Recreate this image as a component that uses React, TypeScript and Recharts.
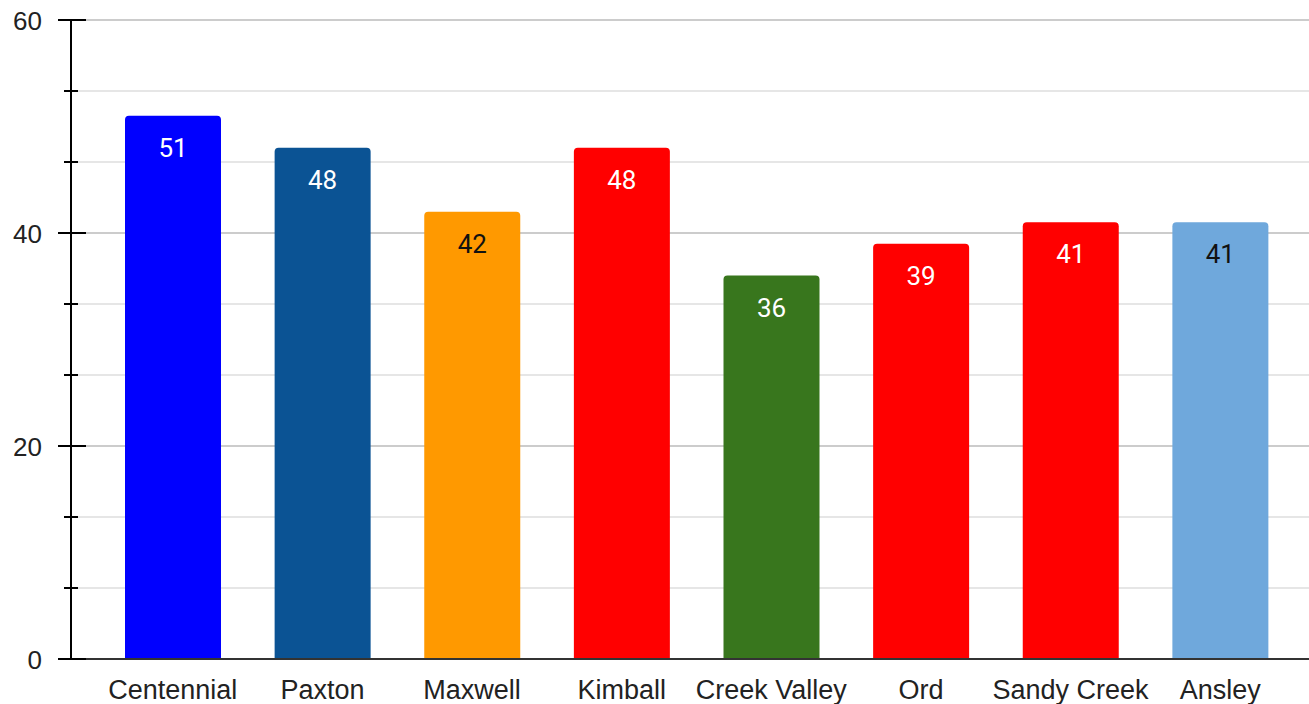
import React from 'react';
import { BarChart, Bar, XAxis, YAxis, CartesianGrid, Cell, LabelList } from 'recharts';

const categories = ['Centennial', 'Paxton', 'Maxwell', 'Kimball', 'Creek Valley', 'Ord', 'Sandy Creek', 'Ansley'];
const values = [51, 48, 42, 48, 36, 39, 41, 41];
const barColors = ['#0000ff', '#0b5394', '#ff9900', '#ff0000', '#38761d', '#ff0000', '#ff0000', '#6fa8dc'];
const labelColors = ['#ffffff', '#ffffff', '#111111', '#ffffff', '#ffffff', '#ffffff', '#ffffff', '#111111'];
const yTicks = [0, 20 / 3, 40 / 3, 20, 80 / 3, 100 / 3, 40, 140 / 3, 160 / 3, 60];
const majorTicks = [0, 20, 40, 60];
const minorTicks = yTicks.filter((_, i) => i % 3 !== 0);

const data = categories.map((name, i) => ({ name, value: values[i] }));

const YTick = (props: any) => {
  const { x, y, index } = props;
  const major = index % 3 === 0;
  return (
    <g>
      {major ? (
        <line x1={x - 13} x2={x + 15} y1={y} y2={y} stroke="#000" strokeWidth={2} />
      ) : (
        <line x1={x - 7} x2={x + 7} y1={y} y2={y} stroke="#000" strokeWidth={2} />
      )}
      {major && (
        <text x={x - 29} y={y + 9.5} textAnchor="end" fontFamily="'Liberation Sans', Arial, sans-serif" fontSize={26} fill="#222">
          {Math.round(yTicks[index])}
        </text>
      )}
    </g>
  );
};

const XTick = (props: any) => {
  const { x, y, payload } = props;
  return (
    <text x={x} y={y + 40} textAnchor="middle" fontFamily="'Liberation Sans', Arial, sans-serif" fontSize={27} fill="#222">
      {payload.value}
    </text>
  );
};

const BarLabel = (props: any) => {
  const { x, y, width, value, index } = props;
  return (
    <text x={x + width / 2} y={y + 41} textAnchor="middle" fontFamily="Roboto, sans-serif" fontSize={26} fill={labelColors[index]}>
      {value}
    </text>
  );
};

export default function App() {
  return (
    <div style={{ position: 'absolute', left: 0, top: 0, width: 1309, height: 704, background: '#fff' }}>
      <BarChart width={1309} height={704} data={data} margin={{ top: 20, right: 0, bottom: 0, left: 0 }}>
        <CartesianGrid vertical={false} horizontalValues={minorTicks} stroke="#e6e6e6" strokeWidth={2} />
        <CartesianGrid vertical={false} horizontalValues={majorTicks} stroke="#cccccc" strokeWidth={2} />
        <XAxis
          dataKey="name"
          padding={{ left: 27, right: 14 }}
          axisLine={{ stroke: '#333', strokeWidth: 2 }}
          tickLine={false}
          tickSize={0}
          tickMargin={0}
          height={45}
          interval={0}
          tick={<XTick />}
        />
        <YAxis
          domain={[0, 60]}
          ticks={yTicks}
          interval={0}
          width={71}
          axisLine={{ stroke: '#000', strokeWidth: 2 }}
          tickLine={false}
          tickSize={0}
          tickMargin={0}
          tick={<YTick />}
        />
        <Bar dataKey="value" barSize={96} radius={[4, 4, 0, 0]} isAnimationActive={false}>
          {data.map((d, i) => (
            <Cell key={d.name} fill={barColors[i]} />
          ))}
          <LabelList dataKey="value" content={<BarLabel />} />
        </Bar>
      </BarChart>
    </div>
  );
}
